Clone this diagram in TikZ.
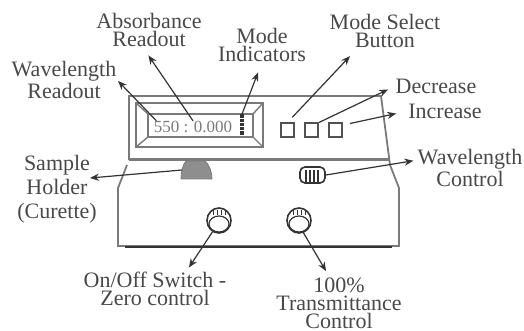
\documentclass[tikz,border=0pt]{standalone}
\usepackage{fontspec}
\setmainfont{Liberation Serif}
\usetikzlibrary{arrows.meta, positioning, shapes.geometric, calc}
\definecolor{panelGray}{HTML}{7A7A7A}
\definecolor{textGray}{HTML}{484848}
\definecolor{lineDark}{HTML}{333333}
\tikzset{
  lbl/.style={text=textGray, font=\fontsize{11}{9}\selectfont, align=center, inner sep=0pt},
  pointer/.style={-{Stealth[length=4.5pt,width=3.6pt]}, lineDark, line width=0.6pt},
  panel/.style={panelGray, line width=0.9pt},
  btn/.style={draw=lineDark!85, line width=1pt, minimum size=6.6pt, inner sep=0pt},
  knob/.style={draw=lineDark, ellipse, line width=0.8pt, minimum width=12pt, minimum height=12.5pt, inner sep=0pt}
}
\begin{document}
\begin{tikzpicture}[x=0.5pt, y=-0.5pt]
  \useasboundingbox (0,0) rectangle (524,331);
  % housing
  \draw[panel] (129,160) -- (129,96) -- (381,96) -- (390,165) -- (399,188) -- (399,246) -- (118,246) -- (118,188) -- (127,165);
  \draw[panel, line width=1.5pt] (129,160) -- (389,160);
  \draw[lineDark, line width=1.1pt] (125,247) -- (392,247);
  % display
  \draw[panel, line width=0.8pt] (136,103) rectangle (263,147);
  \draw[panel, line width=0.8pt] (148,114) rectangle (253,137);
  \draw[panel, line width=0.7pt] (136,103) -- (148,114) (263,103) -- (253,114) (136,147) -- (148,137) (263,147) -- (253,137);
  \node[text=panelGray, font=\fontsize{8.5}{8.5}\selectfont, inner sep=0pt] (readout) at (193,127) {550 : 0.000};
  % mode indicators
  \node[fill=lineDark, minimum width=2.4pt, minimum height=10.5pt, inner sep=0pt] (modebar) at (242,125) {};
  \foreach \y in {118,122,126,130} {
    \draw[white, line width=0.4pt] (240,\y) -- (244,\y);
  }
  % buttons
  \node[btn] (btnmode) at (287.5,130) {};
  \node[btn] (btndec) at (311.5,130) {};
  \node[btn] (btninc) at (335.5,130) {};
  % sample holder
  \draw[panelGray, fill=panelGray!85] (181,179) .. controls (181,172) and (183,164) .. (186,161) -- (205,161) .. controls (209,164) and (212,172) .. (212,179) -- cycle;
  \coordinate (holder) at (182,170);
  % wavelength knob
  \node[draw=lineDark, fill=white, rounded corners=2.5pt, line width=0.8pt, minimum width=12.5pt, minimum height=8pt, inner sep=0pt] (wlknob) at (312.5,175) {};
  \foreach \x in {306,310,314,318} {
    \draw[lineDark, line width=0.6pt] (\x,170) -- (\x,182);
  }
  % knobs
  \node[knob] (onknob) at (219,220.5) {};
  \node[knob] (tknob) at (299,220.5) {};
  \foreach \k in {219,299} {
    \draw[lineDark, line width=0.6pt] (\k,224) ellipse [x radius=10, y radius=8];
    \foreach \d in {-6,-2,2,6} {
      \draw[lineDark, line width=0.5pt] (\k+\d,210) -- (\k+\d,215);
    }
  }
  % labels
  \node[lbl] (lblabs) at (149,30) {Absorbance\\Readout};
  \node[lbl] (lblind) at (262,45) {Mode\\Indicators};
  \node[lbl] (lblwl) at (64,79.5) {Wavelength\\Readout};
  \node[lbl] (lblsel) at (385,31) {Mode Select\\Button};
  \node[lbl] (lbldec) at (436,86) {Decrease};
  \node[lbl] (lblinc) at (445,111) {Increase};
  \node[lbl] (lblctl) at (470,167.5) {Wavelength\\Control};
  \node[lbl, font=\fontsize{11}{12}\selectfont] (lblhold) at (57,189) {Sample\\Holder\\(Curette)};
  \node[lbl] (lblon) at (155,289) {On/Off Switch -\\Zero control};
  \node[lbl] (lbltrans) at (339,303) {100\%\\Transmittance\\Control};
  \coordinate (tiphold) at (90,178);
  % connectors
  \draw[pointer, shorten >=1pt] (readout.north west) ++(3,0) -- (lblwl.east);
  \draw[pointer, shorten >=5pt] (readout.north) -- (lblabs.-110);
  \draw[pointer, shorten >=5.5pt] (modebar.north) -- (lblind.south);
  \draw[pointer, shorten <=3.5pt, shorten >=5.5pt] (btnmode.north) -- (lblsel.-148);
  \draw[pointer, shorten >=4pt] (btndec.north east) -- (lbldec.west);
  \draw[pointer, shorten <=3.5pt, shorten >=6pt] (btninc.east) ++(0,-5) -- (lblinc.west);
  \draw[pointer, shorten >=2pt] (wlknob.east) -- (lblctl.172);
  \draw[pointer] (holder) -- (tiphold);
  \draw[pointer, shorten >=2.5pt] (onknob.-120) -- (lblon.29);
  \draw[pointer, shorten >=3.5pt] (tknob.-70) -- (lbltrans.110);
\end{tikzpicture}
\end{document}
